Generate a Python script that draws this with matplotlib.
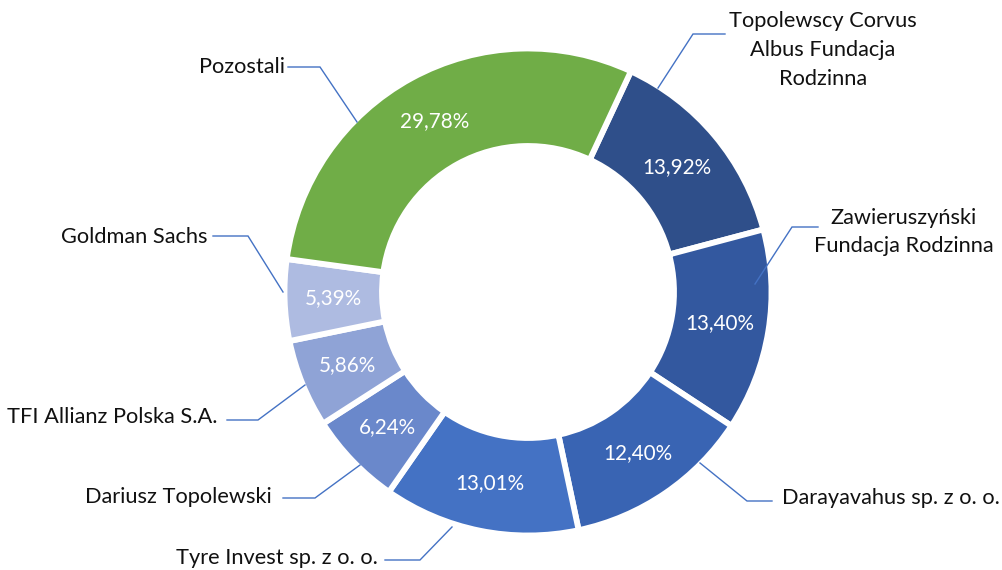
import matplotlib
matplotlib.use("Agg")
import matplotlib.pyplot as plt

# ---- data ----
categories = [
    "Topolewscy Corvus\nAlbus Fundacja\nRodzinna",
    "Zawieruszyński\nFundacja Rodzinna",
    "Darayavahus sp. z o. o.",
    "Tyre Invest sp. z o. o.",
    "Dariusz Topolewski",
    "TFI Allianz Polska S.A.",
    "Goldman Sachs",
    "Pozostali",
]
shares = [13.92, 13.40, 12.40, 13.01, 6.24, 5.86, 5.39, 29.78]
colors = ["#2F4F8A", "#33589F", "#3964B3", "#4472C4",
          "#6A88CB", "#8FA3D6", "#AEBBE1", "#70AD47"]

# ---- layout (pixel coordinates, y downwards) ----
W, H = 1003, 570
FONT = ["Lato", "DejaVu Sans"]
FS = 15.7
FS_PCT = 14.9

def P(x, y):
    return (x, H - y)

# text position, alignment, leader polyline (text end -> elbow -> ring)
label_layout = [
    dict(xy=(823, 50), ha="center", line=[(725, 34), (693, 34), (658, 88)]),
    dict(xy=(904, 232), ha="center", line=[(818, 227), (792, 227), (755, 284)]),
    dict(xy=(782, 498), ha="left", line=[(772, 501), (747, 501), (700, 463)]),
    dict(xy=(378, 558), ha="right", line=[(385, 560), (420, 560), (452, 527)]),
    dict(xy=(272, 497), ha="right", line=[(283, 498), (315, 498), (360, 465)]),
    dict(xy=(218, 417), ha="right", line=[(227, 420), (258, 420), (305, 385)]),
    dict(xy=(208, 237), ha="right", line=[(213, 236), (248, 236), (283, 292)]),
    dict(xy=(285, 67), ha="right", line=[(288, 67), (320, 67), (357, 122)]),
]

fig = plt.figure(figsize=(W / 100, H / 100), dpi=100)
ax = fig.add_axes([0, 0, 1, 1])

R_OUT = 243.5
R_IN = 146.0
ax.pie(
    shares,
    colors=colors,
    startangle=65,
    counterclock=False,
    radius=R_OUT,
    center=P(528, 292),
    wedgeprops=dict(width=R_OUT - R_IN, edgecolor="white", linewidth=4.2),
    autopct=lambda p: f"{p:.2f}%".replace(".", ","),
    pctdistance=((R_OUT + R_IN) / 2) / R_OUT,
    textprops=dict(color="white", fontsize=FS_PCT, family=FONT),
)

for name, lay in zip(categories, label_layout):
    pts = [P(x, y) for x, y in lay["line"]]
    ax.plot([p[0] for p in pts], [p[1] for p in pts], color="#4472C4",
            linewidth=1.0, solid_joinstyle="miter")
    ax.text(*P(*lay["xy"]), name, ha=lay["ha"], va="center",
            multialignment="center", fontsize=FS, family=FONT,
            color="#111111", linespacing=1.55)

ax.set_xlim(0, W)
ax.set_ylim(0, H)
ax.set_aspect("equal")
ax.axis("off")
fig.savefig("out.png", dpi=100)
